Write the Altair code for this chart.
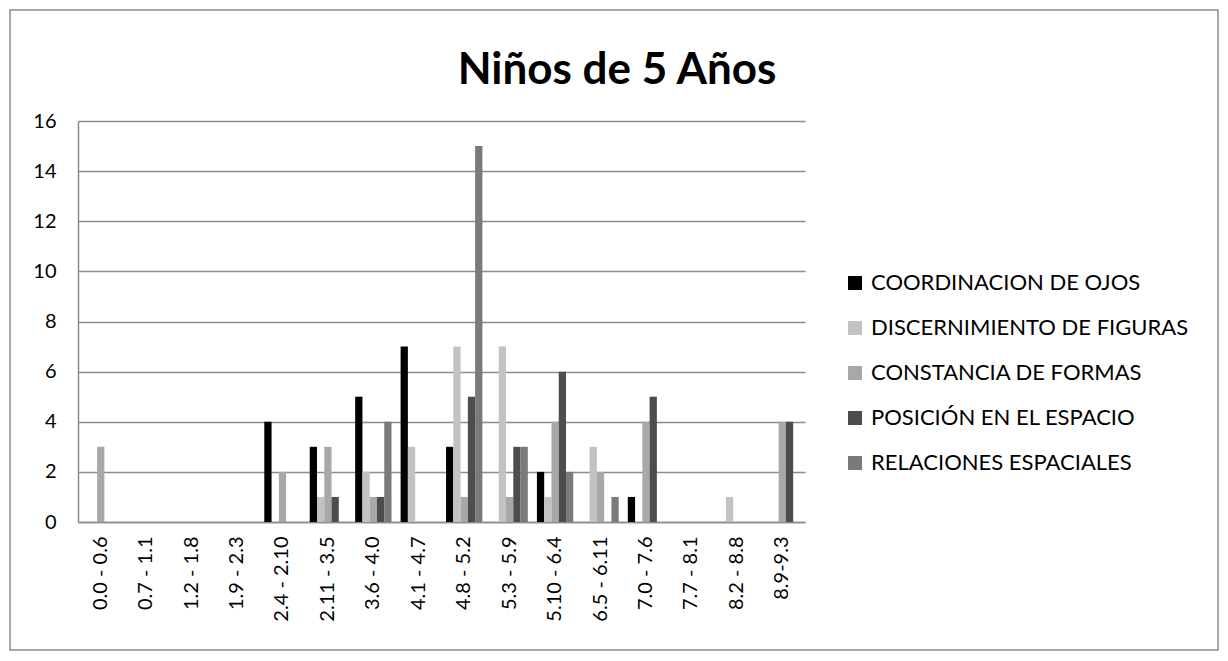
import altair as alt
import pandas as pd

categories = ["0.0 - 0.6", "0.7 - 1.1", "1.2 - 1.8", "1.9 - 2.3", "2.4 - 2.10",
              "2.11 - 3.5", "3.6 - 4.0", "4.1 - 4.7", "4.8 - 5.2", "5.3 - 5.9",
              "5.10 - 6.4", "6.5 - 6.11", "7.0 - 7.6", "7.7 - 8.1", "8.2 - 8.8", "8.9-9.3"]

series_names = ["\u00a0COORDINACION DE OJOS", "DISCERNIMIENTO DE FIGURAS",
                "CONSTANCIA DE FORMAS", "POSICIÓN EN EL ESPACIO", "RELACIONES ESPACIALES"]

coordinacion = [0, 0, 0, 0, 4, 3, 5, 7, 3, 0, 2, 0, 1, 0, 0, 0]
discernimiento = [0, 0, 0, 0, 0, 1, 2, 3, 7, 7, 1, 3, 0, 0, 1, 0]
constancia = [3, 0, 0, 0, 2, 3, 1, 0, 1, 1, 4, 2, 4, 0, 0, 4]
posicion = [0, 0, 0, 0, 0, 1, 1, 0, 5, 3, 6, 0, 5, 0, 0, 4]
relaciones = [0, 0, 0, 0, 0, 0, 4, 0, 15, 3, 2, 1, 0, 0, 0, 0]

series_colors = ["#000000", "#c2c2c2", "#a8a8a8", "#4d4d4d", "#7a7a7a"]
y_ticks = [0, 2, 4, 6, 8, 10, 12, 14, 16]
title_text = "Niños de 5 Años"

rows = []
for name, vals in zip(series_names, [coordinacion, discernimiento, constancia, posicion, relaciones]):
    for c, v in zip(categories, vals):
        rows.append({"cat": c, "serie": name, "value": v})
df = pd.DataFrame(rows)

FONT = "Lato"

bars = alt.Chart(df).mark_bar().encode(
    x=alt.X("cat:N", sort=categories, title=None,
            scale=alt.Scale(paddingInner=0.2, paddingOuter=0.1),
            axis=alt.Axis(labelAngle=-90, labelFontSize=20, labelFont=FONT, labelColor="#000000",
                          labelPadding=14, ticks=False, domainColor="#8c8c8c", domainWidth=1.5,
                          labelBaseline="middle", labelAlign="right")),
    xOffset=alt.XOffset("serie:N", sort=series_names,
                        scale=alt.Scale(paddingInner=0, paddingOuter=0)),
    y=alt.Y("value:Q", title=None, scale=alt.Scale(domain=[0, 16], nice=False),
            axis=alt.Axis(values=y_ticks, labelFontSize=20, labelFont=FONT, labelColor="#000000",
                          labelPadding=22, ticks=False, gridColor="#8c8c8c", gridWidth=1.5,
                          domainColor="#8c8c8c", domainWidth=1.5)),
    color=alt.Color("serie:N", sort=series_names,
                    scale=alt.Scale(domain=series_names, range=series_colors),
                    legend=alt.Legend(title=None, orient="none", legendX=766, legendY=151,
                                      symbolType="square", symbolSize=196, symbolStrokeWidth=0,
                                      labelFontSize=22, labelFont=FONT, labelColor="#000000",
                                      rowPadding=23, labelOffset=5, padding=0,
                                      labelLimit=400)),
)

tdf = pd.DataFrame({"t": [title_text]})

title = alt.Chart(tdf).mark_text(fontSize=44, fontWeight="bold", font=FONT, color="#000000",
                                 align="center", baseline="alphabetic").encode(
    text="t:N", x=alt.value(539), y=alt.value(-37))

border = alt.Chart(tdf).mark_rect(fillOpacity=0, stroke="#8c8c8c", strokeWidth=1.5).encode(
    x=alt.value(-68), x2=alt.value(1140), y=alt.value(-111), y2=alt.value(529))

chart = alt.layer(border, bars, title).properties(
    width=727, height=401,
    autosize=alt.AutoSizeParams(type="none"),
    padding={"left": 70, "top": 113, "right": 415, "bottom": 131},
    background="#ffffff",
).configure_view(strokeOpacity=0)

chart.save("out.html", embed_options={"renderer": "svg", "actions": False})
